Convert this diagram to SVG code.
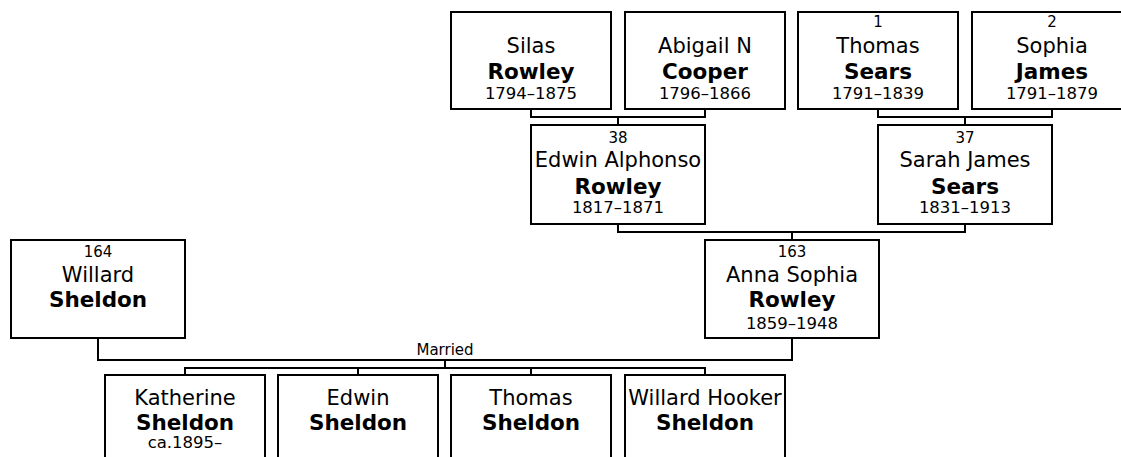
<svg xmlns="http://www.w3.org/2000/svg" width="1121" height="457" viewBox="0 0 1121 457">
<style>
.box{fill:#fff;stroke:#000;stroke-width:2}
.ln{fill:none;stroke:#000;stroke-width:2}
text{font-family:"DejaVu Sans",Verdana,sans-serif;text-anchor:middle;fill:#000}
.nm{font-size:21px}
.sn{font-size:21.5px;font-weight:bold}
.num{font-size:15px}
.dt{font-size:16.5px}
.lbl{font-size:15px}
</style>
<rect width="1121" height="457" fill="#fff"/>
<g id="connectors">
<path class="ln" d="M531,109V117H705V109"/>
<path class="ln" d="M878,109V117H1052V109"/>
<path class="ln" d="M618,117V125"/>
<path class="ln" d="M965,117V125"/>
<path class="ln" d="M618,224V232H965V224"/>
<path class="ln" d="M792,232V240"/>
<path class="ln" d="M98,338V360H792V338"/>
<path class="ln" d="M445,360V368"/>
<path class="ln" d="M185,375V368H705V375"/>
<path class="ln" d="M358,368V375"/>
<path class="ln" d="M531,368V375"/>
<text class="lbl" x="445" y="354.5">Married</text>
</g>
<g id="silas">
<rect class="box" x="451" y="12" width="160" height="97"/>
<text class="nm" x="531" y="53">Silas</text>
<text class="sn" x="531" y="79">Rowley</text>
<text class="dt" x="531" y="99">1794–1875</text>
</g>
<g id="abigail">
<rect class="box" x="625" y="12" width="160" height="97"/>
<text class="nm" x="705" y="53">Abigail N</text>
<text class="sn" x="705" y="79">Cooper</text>
<text class="dt" x="705" y="99">1796–1866</text>
</g>
<g id="thomas-sears">
<rect class="box" x="798" y="12" width="160" height="97"/>
<text class="num" x="878" y="27">1</text>
<text class="nm" x="878" y="53">Thomas</text>
<text class="sn" x="878" y="79">Sears</text>
<text class="dt" x="878" y="99">1791–1839</text>
</g>
<g id="sophia">
<rect class="box" x="972" y="12" width="160" height="97"/>
<text class="num" x="1052" y="27">2</text>
<text class="nm" x="1052" y="53">Sophia</text>
<text class="sn" x="1052" y="79">James</text>
<text class="dt" x="1052" y="99">1791–1879</text>
</g>
<g id="edwin-alphonso">
<rect class="box" x="531" y="125" width="174" height="99"/>
<text class="num" x="618" y="142.5">38</text>
<text class="nm" x="618" y="166.5">Edwin Alphonso</text>
<text class="sn" x="618" y="194">Rowley</text>
<text class="dt" x="618" y="213">1817–1871</text>
</g>
<g id="sarah">
<rect class="box" x="878" y="125" width="174" height="99"/>
<text class="num" x="965" y="142.5">37</text>
<text class="nm" x="965" y="166.5">Sarah James</text>
<text class="sn" x="965" y="194">Sears</text>
<text class="dt" x="965" y="213">1831–1913</text>
</g>
<g id="willard">
<rect class="box" x="11" y="240" width="174" height="98"/>
<text class="num" x="98" y="256.5">164</text>
<text class="nm" x="98" y="282">Willard</text>
<text class="sn" x="98" y="306.5">Sheldon</text>
</g>
<g id="anna">
<rect class="box" x="705" y="240" width="174" height="98"/>
<text class="num" x="792" y="256.5">163</text>
<text class="nm" x="792" y="282">Anna Sophia</text>
<text class="sn" x="792" y="307">Rowley</text>
<text class="dt" x="792" y="329">1859–1948</text>
</g>
<g id="katherine">
<rect class="box" x="105" y="375" width="160" height="100"/>
<text class="nm" x="185" y="405">Katherine</text>
<text class="sn" x="185" y="429.5">Sheldon</text>
<text class="dt" x="185" y="448">ca.1895–</text>
</g>
<g id="edwin-sheldon">
<rect class="box" x="278" y="375" width="160" height="100"/>
<text class="nm" x="358" y="405">Edwin</text>
<text class="sn" x="358" y="429.5">Sheldon</text>
</g>
<g id="thomas-sheldon">
<rect class="box" x="451" y="375" width="160" height="100"/>
<text class="nm" x="531" y="405">Thomas</text>
<text class="sn" x="531" y="429.5">Sheldon</text>
</g>
<g id="willard-hooker">
<rect class="box" x="625" y="375" width="160" height="100"/>
<text class="nm" x="705" y="405">Willard Hooker</text>
<text class="sn" x="705" y="429.5">Sheldon</text>
</g>
</svg>
